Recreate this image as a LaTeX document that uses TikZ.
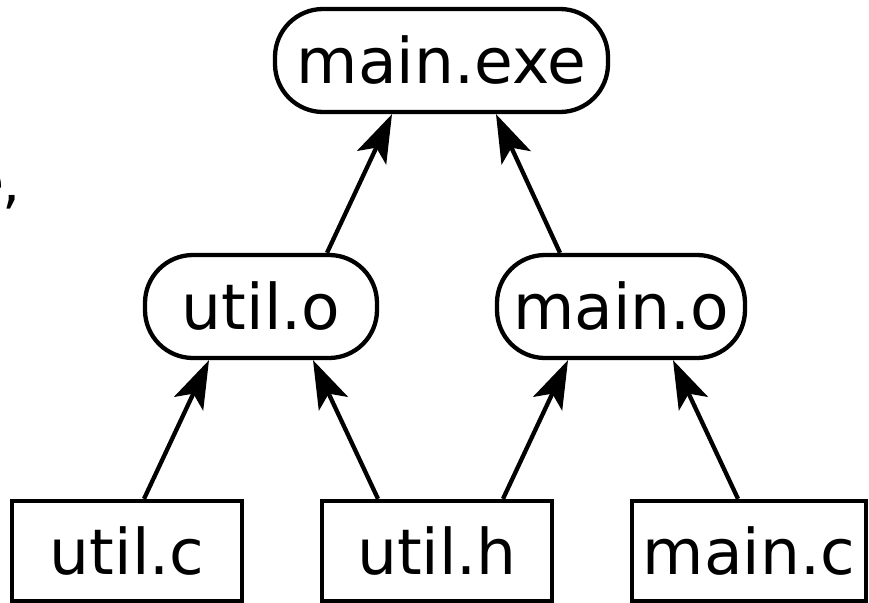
\documentclass[tikz,border=0pt]{standalone}
\usepackage{fontspec}
\setmainfont{DejaVu Sans}
\usetikzlibrary{arrows.meta}

\tikzset{
  label font/.style={font=\fontsize{63pt}{70pt}\selectfont},
  objfile/.style={draw, line width=4.3pt, rounded corners=48pt, inner sep=0pt,
    minimum height=103pt, label font},
  srcfile/.style={draw, line width=4.3pt, inner sep=0pt,
    minimum height=100pt, minimum width=230pt, label font},
  dep/.style={line width=4.3pt,
    -{Stealth[length=48pt, width=32pt, inset=11pt]}},
}

\begin{document}
\begin{tikzpicture}[x=1pt, y=-1pt]
  \useasboundingbox (0,0) rectangle (869,602);

  % tail of a caption running in from the left
  \node[anchor=base east, inner sep=0pt, font=\fontsize{57pt}{64pt}\selectfont]
    (captiontail) at (21,202) {e\kern-2pt,};

  % build products
  \node[objfile, minimum width=333pt] (mainexe) at (441.5,60.5) {main.exe};
  \node[objfile, minimum width=232pt] (utilo) at (261,306.5) {util.o};
  \node[objfile, minimum width=248pt] (maino) at (621,306.5) {main.o};

  % sources
  \node[srcfile] (utilc) at (127,551) {util.c};
  \node[srcfile] (utilh) at (437,551) {util.h};
  \node[srcfile, minimum width=234pt] (mainc) at (749,551) {main.c};

  % dependencies
  \draw[dep] ([xshift=17pt]utilc.north) -- ([xshift=-52pt]utilo.south);
  \draw[dep] ([xshift=-59pt]utilh.north) -- ([xshift=52pt]utilo.south);
  \draw[dep] ([xshift=66pt]utilh.north) -- ([xshift=-53pt]maino.south);
  \draw[dep] ([xshift=-11pt]mainc.north) -- ([xshift=52pt]maino.south);
  \draw[dep] ([xshift=66pt]utilo.north) -- ([xshift=-49.5pt]mainexe.south);
  \draw[dep] ([xshift=-61pt]maino.north) -- ([xshift=54.5pt]mainexe.south);
\end{tikzpicture}
\end{document}
